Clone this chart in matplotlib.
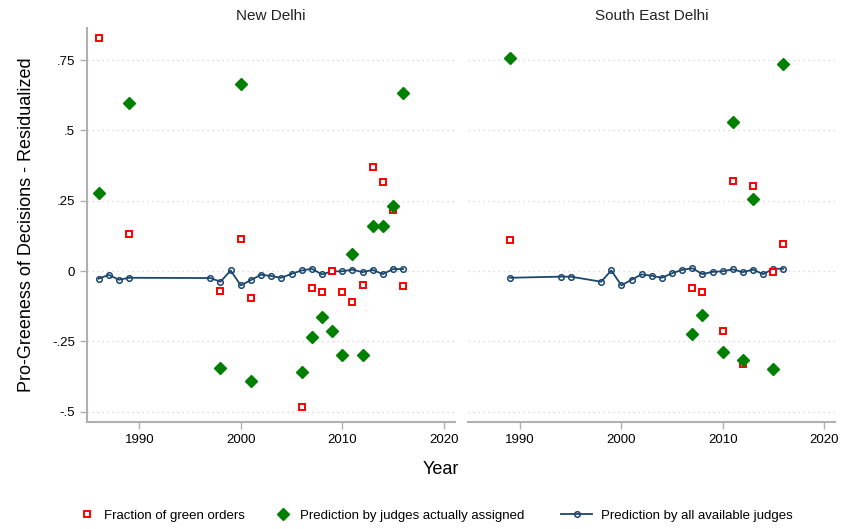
import numpy as np
import matplotlib.pyplot as plt

plt.rcParams['font.family'] = ['Liberation Sans', 'DejaVu Sans']

# ── New Delhi ───────────────────────────────────────────────────────────
nd_frac_years = [1986, 1989, 1998, 2000, 2001, 2006, 2007, 2008, 2009, 2010,
                 2011, 2012, 2013, 2014, 2015, 2016]
nd_frac = [0.828, 0.131, -0.070, 0.114, -0.096, -0.485, -0.060, -0.075, 0.0,
           -0.075, -0.111, -0.051, 0.371, 0.316, 0.218, -0.053]
nd_assigned = [0.279, 0.599, -0.344, 0.665, -0.391, -0.359, -0.234, -0.164,
               -0.215, -0.298, 0.059, -0.300, 0.161, 0.159, 0.232, 0.633]
nd_all_years = [1986, 1987, 1988, 1989, 1997, 1998, 1999, 2000, 2001, 2002,
                2003, 2004, 2005, 2006, 2007, 2008, 2009, 2010, 2011, 2012,
                2013, 2014, 2015, 2016]
nd_all = [-0.027, -0.014, -0.031, -0.024, -0.025, -0.038, 0.002, -0.051,
          -0.032, -0.013, -0.018, -0.024, -0.010, 0.002, 0.008, -0.012,
          -0.001, -0.001, 0.005, -0.004, 0.004, -0.011, 0.007, 0.007]

# ── South East Delhi ────────────────────────────────────────────────────
se_frac_years = [1989, 2007, 2008, 2010, 2011, 2012, 2013, 2015, 2016]
se_frac = [0.111, -0.060, -0.074, -0.212, 0.321, -0.331, 0.302, -0.002, 0.096]
se_assigned = [0.757, -0.224, -0.155, -0.289, 0.530, -0.316, 0.257, -0.349,
               0.736]
se_all_years = [1989, 1994, 1995, 1998, 1999, 2000, 2001, 2002, 2003, 2004,
                2005, 2006, 2007, 2008, 2009, 2010, 2011, 2012, 2013, 2014,
                2015, 2016]
se_all = [-0.024, -0.020, -0.020, -0.038, 0.002, -0.051, -0.031, -0.012,
          -0.017, -0.024, -0.008, 0.004, 0.010, -0.011, -0.003, -0.001,
          0.006, -0.004, 0.005, -0.011, 0.008, 0.008]

y_ticks = [-0.5, -0.25, 0, 0.25, 0.5, 0.75]
y_labels = ['-.5', '-.25', '0', '.25', '.5', '.75']
x_ticks = [1990, 2000, 2010, 2020]

navy = '#1a476f'
green = '#008000'
gray = '#b0b0b0'

fig = plt.figure(figsize=(8.43, 5.29), dpi=100)
ax1 = fig.add_axes([0.1032, 0.2023, 0.4365, 0.745])
ax2 = fig.add_axes([0.5552, 0.2023, 0.4353, 0.745])

panels = [
    (ax1, 'New Delhi', nd_frac_years, nd_frac, nd_assigned, nd_all_years, nd_all),
    (ax2, 'South East Delhi', se_frac_years, se_frac, se_assigned, se_all_years, se_all),
]

for ax, title, fy, fv, av, ly, lv in panels:
    ax.set_xlim(1984.85, 2021.1)
    ax.set_ylim(-0.537, 0.865)
    for y in y_ticks:
        ax.axhline(y, color='#d0d0d0', linestyle=(0, (1, 3)), linewidth=0.9, zorder=0)
    ax.plot(ly, lv, '-o', color=navy, markersize=4.0, markerfacecolor='none',
            markeredgewidth=1.1, linewidth=1.3, zorder=2,
            label='Prediction by all available judges')
    ax.plot(fy, fv, 's', color='red', markersize=4.5, markerfacecolor='white',
            markeredgewidth=1.4, linestyle='none', zorder=3,
            label='Fraction of green orders')
    ax.plot(fy, av, 'D', color=green, markersize=6, linestyle='none', zorder=3,
            label='Prediction by judges actually assigned')
    ax.set_title(title, fontsize=11, pad=6, color='#222222')
    ax.set_xticks(x_ticks)
    ax.set_yticks(y_ticks)
    ax.tick_params(axis='both', colors=gray, labelcolor='black', labelsize=9.5,
                   length=5, width=1)
    for s in ['top', 'right']:
        ax.spines[s].set_visible(False)
    ax.spines['bottom'].set_color(gray)
    ax.spines['bottom'].set_linewidth(1.5)
    ax.spines['left'].set_color(gray)
    ax.spines['left'].set_linewidth(1.5)

ax1.set_yticklabels(y_labels)
ax2.spines['left'].set_visible(False)
ax2.tick_params(axis='y', left=False, labelleft=False)

fig.text(0.032, 0.575, 'Pro-Greeness of Decisions - Residualized', rotation=90,
         ha='center', va='center', fontsize=13)
fig.text(0.523, 0.112, 'Year', ha='center', va='center', fontsize=13)

# legend: three entries placed at their own spots along the bottom
handles, labels = ax1.get_legend_handles_labels()
leg_items = [(1, 0.0925, 1.4, 0.6), (2, 0.3245, 1.4, 0.6), (0, 0.666, 2.3, 0.7)]
for idx, x0, hl, hp in leg_items:
    leg = fig.legend([handles[idx]], [labels[idx]], loc='center left',
                     bbox_to_anchor=(x0, 0.025), frameon=False, fontsize=9.5,
                     handlelength=hl, handletextpad=hp, borderpad=0,
                     borderaxespad=0)

plt.savefig('out.png', dpi=100)
